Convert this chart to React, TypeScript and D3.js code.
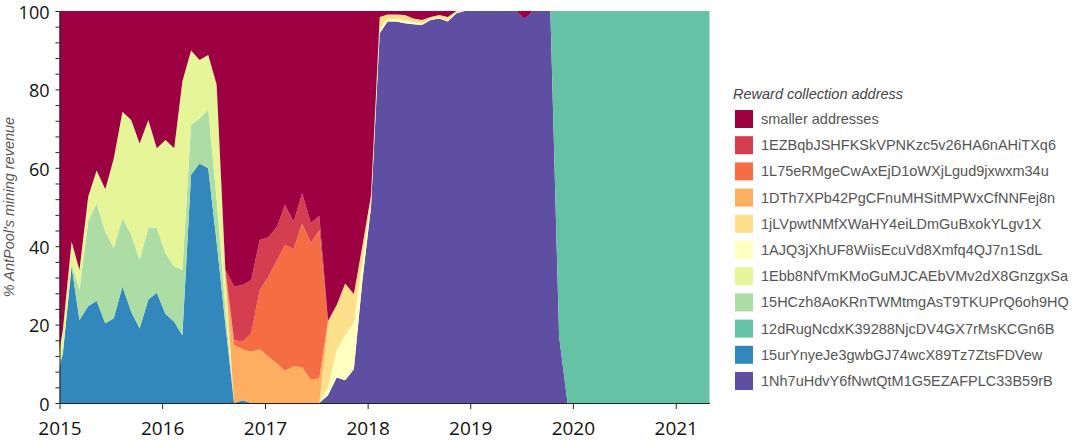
import React, { useEffect, useRef } from "react";
import * as d3 from "d3";

// Legend order (top to bottom); stack order is the reverse
const seriesNames: string[] = [
  "smaller addresses",
  "1EZBqbJSHFKSkVPNKzc5v26HA6nAHiTXq6",
  "1L75eRMgeCwAxEjD1oWXjLgud9jxwxm34u",
  "1DTh7XPb42PgCFnuMHSitMPWxCfNNFej8n",
  "1jLVpwtNMfXWaHY4eiLDmGuBxokYLgv1X",
  "1AJQ3jXhUF8WiisEcuVd8Xmfq4QJ7n1SdL",
  "1Ebb8NfVmKMoGuMJCAEbVMv2dX8GnzgxSa",
  "15HCzh8AoKRnTWMtmgAsT9TKUPrQ6oh9HQ",
  "12dRugNcdxK39288NjcDV4GX7rMsKCGn6B",
  "15urYnyeJe3gwbGJ74wcX89Tz7ZtsFDVew",
  "1Nh7uHdvY6fNwtQtM1G5EZAFPLC33B59rB",
];

const yTickValues: number[] = [0, 20, 40, 60, 80, 100];
const xTickYears: number[] = [2015, 2016, 2017, 2018, 2019, 2020, 2021];

// Monthly observations: Dec 2014 .. May 2021 (78 months)
const smaller: number[] = [95,
  81.3, 58.8, 66.1, 47.4, 40.7, 45.5, 37.6, 25.7, 27.8, 33.8, 27.8, 35.0,
  32.9, 35.0, 18.0, 10.1, 12.5, 11.2, 18.7, 66, 70.3, 69.9, 68.6, 58.4,
  57.7, 55, 49.5, 53.7, 46.5, 54, 52.3, 79, 75, 69.5, 72.2, 60,
  47, 1.5, 0.9, 0.9, 1.0, 1.9, 2.3, 1.5, 1.0, 1.5, 0, 0,
  0, 0, 0, 0, 0, 0, 2, 0, 0, 0, 0, 0,
  0, 0, 0, 0, 0, 0, 0, 0, 0, 0, 0, 0,
  0, 0, 0, 0, 0];
const addrEZB: number[] = [0,
  0, 0, 0, 0, 0, 0, 0, 0, 0, 0, 0, 0,
  0, 0, 0, 0, 0, 0, 0, 0.2, 13.6, 14.5, 13.6, 12.8,
  10.1, 8.5, 10.2, 7.0, 7.7, 5.1, 3.6, 0, 0, 0, 0, 0,
  0, 0, 0, 0, 0, 0, 0, 0, 0, 0, 0, 0,
  0, 0, 0, 0, 0, 0, 0, 0, 0, 0, 0, 0,
  0, 0, 0, 0, 0, 0, 0, 0, 0, 0, 0, 0,
  0, 0, 0, 0, 0];
const addrL75: number[] = [0,
  0, 0, 0, 0, 0, 0, 0, 0, 0, 0, 0, 0,
  0, 0, 0, 0, 0, 0, 0.2, 0.5, 1.3, 1.9, 4.7, 15.1,
  20.4, 26.4, 32.1, 29.9, 36.7, 35.0, 37.8, 0, 0, 0, 0, 0,
  0, 0, 0, 0, 0, 0, 0, 0, 0, 0, 0, 0,
  0, 0, 0, 0, 0, 0, 0, 0, 0, 0, 0, 0,
  0, 0, 0, 0, 0, 0, 0, 0, 0, 0, 0, 0,
  0, 0, 0, 0, 0];
const addrDTh: number[] = [0,
  0, 0, 0, 0, 0, 0, 0, 0, 0, 0, 0, 0,
  0, 0, 0, 0, 0, 0, 0.3, 0.8, 14.8, 13.0, 13.1, 13.7,
  11.8, 10.1, 8.2, 9.4, 9.1, 5.9, 6.3, 0.5, 0, 0, 0, 0,
  0, 0, 0, 0, 0, 0, 0, 0, 0, 0, 0, 0,
  0, 0, 0, 0, 0, 0, 0, 0, 0, 0, 0, 0,
  0, 0, 0, 0, 0, 0, 0, 0, 0, 0, 0, 0,
  0, 0, 0, 0, 0];
const addrJLV: number[] = [0,
  0, 0, 0, 0, 0, 0, 0, 0, 0, 0, 0, 0,
  0, 0, 0, 0, 0, 0, 0.3, 0.5, 0, 0, 0, 0,
  0, 0, 0, 0, 0, 0, 0, 16.5, 11.5, 13.2, 7.3, 4,
  1.5, 3.0, 1.2, 1.2, 1.4, 1.0, 0.9, 0.5, 0.6, 0.7, 0.4, 0,
  0, 0, 0, 0, 0, 0, 0, 0, 0, 0, 0, 0,
  0, 0, 0, 0, 0, 0, 0, 0, 0, 0, 0, 0,
  0, 0, 0, 0, 0];
const addrAJQ: number[] = [0,
  0, 0, 0, 0, 0, 0, 0, 0, 0, 0, 0, 0,
  0, 0, 0, 0, 0, 0, 0, 0, 0, 0, 0, 0,
  0, 0, 0, 0, 0, 0, 0, 2, 7, 11.5, 11.9, 5,
  1.5, 1.2, 0.6, 0.6, 0.7, 0.5, 0.4, 0.3, 0.3, 0.5, 0.2, 0,
  0, 0, 0, 0, 0, 0, 0, 0, 0, 0, 0, 0,
  0, 0, 0, 0, 0, 0, 0, 0, 0, 0, 0, 0,
  0, 0, 0, 0, 0];
const addrEbb: number[] = [1,
  6, 5.6, 5.1, 6.3, 8.4, 10.8, 22.9, 27.2, 29.3, 29.7, 27.4, 20.2,
  28.9, 30.2, 48.1, 19.0, 14.9, 13.9, 28.5, 8, 0, 0, 0, 0,
  0, 0, 0, 0, 0, 0, 0, 0, 0, 0, 0, 0,
  0, 0, 0, 0, 0, 0, 0, 0, 0, 0, 0, 0,
  0, 0, 0, 0, 0, 0, 0, 0, 0, 0, 0, 0,
  0, 0, 0, 0, 0, 0, 0, 0, 0, 0, 0, 0,
  0, 0, 0, 0, 0];
const addr15H: number[] = [0,
  0, 0.8, 7.6, 21.6, 24.8, 23.4, 17.9, 17.4, 19.6, 17.5, 18.4, 16.7,
  15.5, 14.1, 16.6, 12.7, 11.5, 15.0, 11, 4, 0, 0, 0, 0,
  0, 0, 0, 0, 0, 0, 0, 0, 0, 0, 0, 0,
  0, 0, 0, 0, 0, 0, 0, 0, 0, 0, 0, 0,
  0, 0, 0, 0, 0, 0, 0, 0, 0, 0, 0, 0,
  0, 0, 0, 0, 0, 0, 0, 0, 0, 0, 0, 0,
  0, 0, 0, 0, 0];
const addr12d: number[] = [0,
  0, 0, 0, 0, 0, 0, 0, 0, 0, 0, 0, 0,
  0, 0, 0, 0, 0, 0, 0, 0, 0, 0, 0, 0,
  0, 0, 0, 0, 0, 0, 0, 0, 0, 0, 0, 0,
  0, 0, 0, 0, 0, 0, 0, 0, 0, 0, 0, 0,
  0, 0, 0, 0, 0, 0, 0, 0, 0, 0, 83, 100,
  100, 100, 100, 100, 100, 100, 100, 100, 100, 100, 100, 100,
  100, 100, 100, 100, 100];
const addr15u: number[] = [4,
  12.7, 34.8, 21.2, 24.7, 26.1, 20.3, 21.6, 29.7, 23.3, 19.0, 26.4, 28.1,
  22.7, 20.7, 17.3, 58.2, 61.1, 59.9, 41, 20, 0, 0.7, 0, 0,
  0, 0, 0, 0, 0, 0, 0, 0, 0, 0, 0, 0,
  0, 0, 0, 0, 0, 0, 0, 0, 0, 0, 0, 0,
  0, 0, 0, 0, 0, 0, 0, 0, 0, 0, 0, 0,
  0, 0, 0, 0, 0, 0, 0, 0, 0, 0, 0, 0,
  0, 0, 0, 0, 0];
const addr1Nh: number[] = [0,
  0, 0, 0, 0, 0, 0, 0, 0, 0, 0, 0, 0,
  0, 0, 0, 0, 0, 0, 0, 0, 0, 0, 0, 0,
  0, 0, 0, 0, 0, 0, 0, 2, 6.5, 5.8, 8.6, 31,
  50, 94.3, 97.3, 97.3, 96.9, 96.6, 96.4, 97.7, 98.1, 97.3, 99.4, 100,
  100, 100, 100, 100, 100, 100, 98, 100, 100, 100, 17, 0,
  0, 0, 0, 0, 0, 0, 0, 0, 0, 0, 0, 0,
  0, 0, 0, 0, 0];

const seriesValues: number[][] = [
  smaller, addrEZB, addrL75, addrDTh, addrJLV, addrAJQ,
  addrEbb, addr15H, addr12d, addr15u, addr1Nh,
];

const W = 1078;
const H = 444;
const M = { left: 59.5, right: 709.5, top: 11, bottom: 403 };

export default function App() {
  const xAxisRef = useRef<SVGGElement>(null);
  const yAxisRef = useRef<SVGGElement>(null);

  const months = d3.utcMonth.range(new Date(Date.UTC(2014, 11, 1)), new Date(Date.UTC(2021, 5, 1)))
    .map((d) => d3.utcDay.offset(d, 12));

  const colors = d3.schemeSpectral[11];
  const stackKeys = seriesNames.slice().reverse();
  const rows = months.map((d, i) => {
    const r: any = { date: d };
    seriesNames.forEach((n, k) => (r[n] = seriesValues[k][i]));
    return r;
  });
  const stacked = d3.stack<any>().keys(stackKeys)(rows);

  const x = d3.scaleUtc()
    .domain([new Date(Date.UTC(2015, 0, 1)), new Date(Date.UTC(2021, 4, 1))])
    .range([M.left, M.right]);
  const y = d3.scaleLinear().domain([0, 100]).range([M.bottom, M.top]);

  const area = d3.area<any>()
    .x((d) => x(d.data.date))
    .y0((d) => y(d[0]))
    .y1((d) => y(d[1]))
    .curve(d3.curveLinear);

  useEffect(() => {
    const xa = d3.select(xAxisRef.current!);
    xa.selectAll("*").remove();
    xa.call(
      d3.axisBottom(x)
        .tickValues(xTickYears.map((yr) => new Date(Date.UTC(yr, 0, 1))))
        .tickFormat((d: any) => d3.utcFormat("%Y")(d))
        .tickSize(6)
        .tickSizeOuter(0)
        .tickPadding(13)
    );
    xa.select(".domain").attr("stroke", "#222");
    xa.selectAll(".tick line").attr("stroke", "#222");
    xa.selectAll(".tick text")
      .attr("fill", "#111")
      .style("font-family", "'Open Sans', sans-serif")
      .style("font-size", "19px");

    const ya = d3.select(yAxisRef.current!);
    ya.selectAll("*").remove();
    ya.call(
      d3.axisLeft(y)
        .tickValues(d3.range(0, 101, 4))
        .tickFormat((d: any) => (yTickValues.includes(d) ? String(d) : ""))
        .tickSize(4)
        .tickSizeOuter(0)
        .tickPadding(6)
    );
    ya.select(".domain").attr("stroke", "#222");
    ya.selectAll(".tick line").attr("stroke", "#222");
    ya.selectAll(".tick text")
      .attr("fill", "#111")
      .attr("dy", "0.4em")
      .style("font-family", "'Open Sans', sans-serif")
      .style("font-size", "18px");
  });

  return (
    <svg width={W} height={H} style={{ position: "absolute", left: 0, top: 0, background: "#fff" }}>
      <defs>
        <clipPath id="plot-clip">
          <rect x={M.left} y={M.top} width={M.right - M.left} height={M.bottom - M.top} />
        </clipPath>
      </defs>
      <g clipPath="url(#plot-clip)">
        {stacked.map((s) => (
          <path key={s.key} d={area(s) || ""} fill={colors[seriesNames.indexOf(s.key)]} />
        ))}
      </g>
      <g ref={xAxisRef} transform={`translate(0,${M.bottom})`} />
      <g ref={yAxisRef} transform={`translate(${M.left},0)`} />
      <text
        transform={`translate(14,${(M.top + M.bottom) / 2}) rotate(-90)`}
        textAnchor="middle"
        fontStyle="italic"
        fontFamily="'Liberation Sans', Arial, sans-serif"
        fontSize={14.5}
        fill="#555"
      >
        % AntPool's mining revenue
      </text>
      <g transform="translate(733,0)">
        <text
          x={0}
          y={98.5}
          fontStyle="italic"
          fontFamily="'Liberation Sans', Arial, sans-serif"
          fontSize={14.5}
          fill="#444"
        >
          Reward collection address
        </text>
        {seriesNames.map((n, i) => (
          <g key={n} transform={`translate(2,${110 + i * 26.2})`}>
            <rect width={18} height={18} fill={colors[i]} />
            <text
              x={26}
              y={9}
              dominantBaseline="central"
              fontFamily="'Liberation Sans', Arial, sans-serif"
              fontSize={14.5}
              fill="#555"
            >
              {n}
            </text>
          </g>
        ))}
      </g>
    </svg>
  );
}
